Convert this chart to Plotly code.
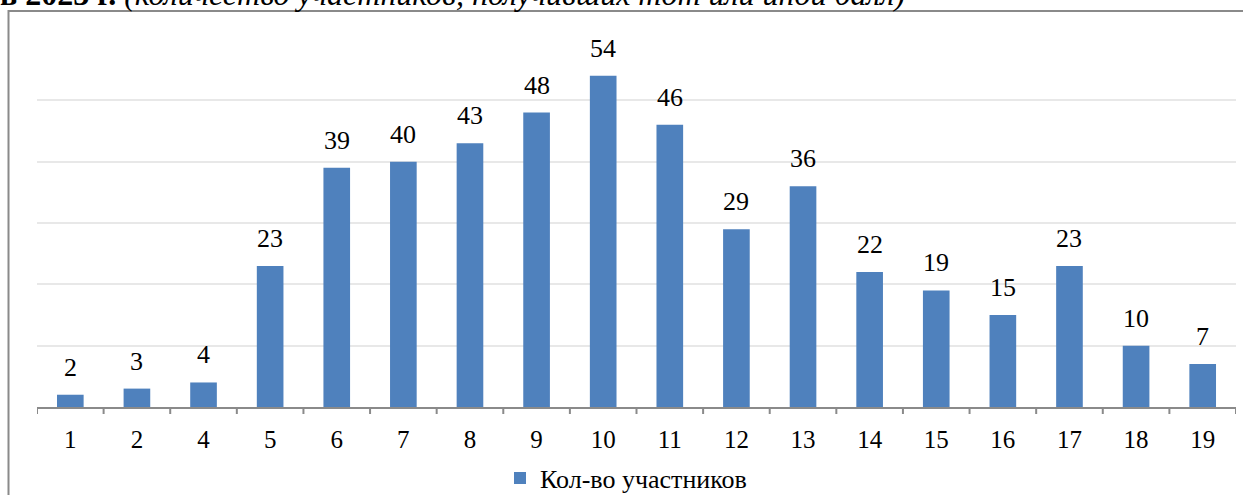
import plotly.graph_objects as go

# Score distribution: number of participants per score
scores = ["1", "2", "4", "5", "6", "7", "8", "9", "10", "11",
          "12", "13", "14", "15", "16", "17", "18", "19"]
participants = [2, 3, 4, 23, 39, 40, 43, 48, 54, 46,
                29, 36, 22, 19, 15, 23, 10, 7]
series_name = "Кол-во участников"
caption_bold = "в 2023 г."
caption_italic = "(количество участников, получивших тот или иной балл)"

W, H = 1243, 495
ML, MR, MT, MB = 37, 7, 39, 88
plot_w = W - ML - MR
plot_h = H - MT - MB

bar_color = "#4f81bd"
serif = "Liberation Serif"

fig = go.Figure()
fig.add_trace(go.Bar(
    x=list(range(len(scores))),
    y=participants,
    name=series_name,
    marker=dict(color=bar_color, line=dict(width=0)),
    showlegend=True,
))

# value labels above the bars
for i, v in enumerate(participants):
    fig.add_annotation(
        x=i, y=v, xref="x", yref="y",
        text=str(v), showarrow=False,
        yanchor="bottom", yshift=11,
        font=dict(family=serif, size=26, color="#000000"),
    )

def px_to_paper_x(px):
    return (px - ML) / plot_w

def px_to_paper_y(py):
    return (H - MB - py) / plot_h

# outer frame of the chart block
fig.add_shape(
    type="rect", xref="paper", yref="paper",
    x0=px_to_paper_x(8.5), x1=px_to_paper_x(1300),
    y0=px_to_paper_y(11), y1=px_to_paper_y(560),
    line=dict(color="#8a8a8a", width=2),
    fillcolor="rgba(0,0,0,0)",
    layer="below",
)

# caption line above the frame
fig.add_annotation(
    xref="paper", yref="paper",
    x=px_to_paper_x(-2), y=px_to_paper_y(6),
    xanchor="left", yanchor="bottom", yshift=-8,
    text="<b>" + caption_bold + "</b> <i>" + caption_italic + "</i>",
    showarrow=False,
    font=dict(family=serif, size=32, color="#000000"),
)

fig.update_layout(
    width=W, height=H,
    margin=dict(l=ML, r=MR, t=MT, b=MB, pad=0, autoexpand=False),
    paper_bgcolor="#ffffff",
    plot_bgcolor="#ffffff",
    bargap=0.6,
    font=dict(family=serif, size=24, color="#000000"),
    legend=dict(
        orientation="h",
        x=px_to_paper_x(626), xanchor="center",
        y=px_to_paper_y(478), yanchor="middle",
        font=dict(family=serif, size=26, color="#000000"),
        bgcolor="rgba(0,0,0,0)",
    ),
    xaxis=dict(
        range=[-0.5, len(scores) - 0.5],
        tickmode="array",
        tickvals=list(range(len(scores))),
        ticktext=scores,
        showline=True, linecolor="#8a8a8a", linewidth=2,
        ticks="", showgrid=False, zeroline=False,
        ticklabelstandoff=9,
        tickfont=dict(family=serif, size=25, color="#000000"),
        fixedrange=True,
    ),
    yaxis=dict(
        range=[0, 60], dtick=10,
        showgrid=True, gridcolor="#e8e8e8", gridwidth=2,
        showticklabels=False, zeroline=False,
        showline=False, ticks="",
        fixedrange=True,
    ),
)

# tick marks on the category boundaries
for i in range(len(scores) + 1):
    fig.add_shape(
        type="line", xref="x", yref="paper",
        x0=i - 0.5, x1=i - 0.5, y0=0, y1=-7 / plot_h,
        line=dict(color="#8a8a8a", width=2),
    )

fig.write_html("out.html")
